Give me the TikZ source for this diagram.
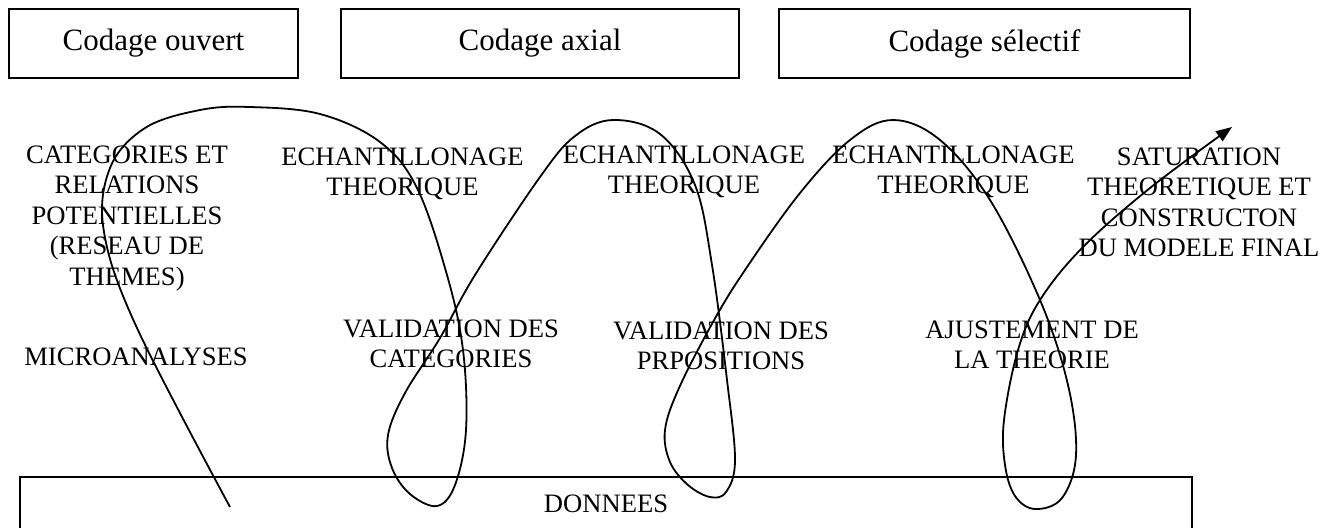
\documentclass[tikz,border=0pt]{standalone}
\usepackage{fontspec}
\setmainfont{Liberation Serif}
\usepackage{tikz}
\usetikzlibrary{shapes,arrows.meta,positioning}
\tikzstyle{codage} = [rectangle, minimum height=34.5pt, text centered, draw=black, line width=1pt, font=\fontsize{15.5}{18}\selectfont]
\tikzstyle{etape} = [align=center, anchor=north, inner sep=0pt, font=\fontsize{13.3}{15.3}\selectfont]
\tikzstyle{donnees} = [rectangle, minimum width=586pt, minimum height=27pt, text centered, draw=black, line width=1pt, font=\fontsize{13.3}{15}\selectfont]
\tikzstyle{spirale} = [line width=0.9pt, -{Triangle[length=8pt,width=6pt]}]

\begin{document}
\begin{tikzpicture}[x=0.5pt, y=-0.5pt]
	\useasboundingbox (0,0) rectangle (1336,527);
	\clip (0,0) rectangle (1336,527);

	\node (ouvert) [codage, minimum width=144.5pt] at (153.5,43.5) {Codage ouvert};
	\node (axial) [codage, minimum width=199pt] at (540,43.5) {Codage axial};
	\node (selectif) [codage, minimum width=205.5pt] at (984.5,43.5) {Codage sélectif};

	\node (categories) [etape] at (127,145) {CATEGORIES ET\\RELATIONS\\POTENTIELLES\\(RESEAU DE\\THEMES)};
	\node (echant1) [etape] at (402.5,147) {ECHANTILLONAGE\\THEORIQUE};
	\node (echant2) [etape] at (684,145) {ECHANTILLONAGE\\THEORIQUE};
	\node (echant3) [etape] at (953.5,145) {ECHANTILLONAGE\\THEORIQUE};
	\node (saturation) [etape] at (1199,147) {SATURATION\\THEORETIQUE ET\\CONSTRUCTON\\DU MODELE FINAL};

	\node (micro) [etape] at (136,347) {MICROANALYSES};
	\node (valcat) [etape] at (451,319) {VALIDATION DES\\CATEGORIES};
	\node (valprop) [etape] at (721,321) {VALIDATION DES\\PRPOSITIONS};
	\node (ajustement) [etape] at (1032,320) {AJUSTEMENT DE\\LA THEORIE};

	\node (data) [donnees] at (606,504) {DONNEES};

	% la spirale
	\draw[spirale] plot[smooth, tension=0.6] coordinates {
		(230,507) (137,328) (104,232) (110,168) (145,128) (200,110) (250,107)
		(320,114) (380,142) (417,188) (447,275) (463,350) (466,430) (455,485)
		(437,506) (410,494) (392,468) (388,435) (405,393) (440,338) (475,275)
		(540,177) (575,136) (613,120) (660,134) (695,185) (712,265) (727,380)
		(735,460) (726,492) (710,497) (688,485) (670,462) (665,430) (679,388)
		(713,322) (745,270) (800,193) (850,140) (893,120) (940,140) (990,200)
		(1040,300) (1068,385) (1076,455) (1062,498) (1035,509) (1015,496)
		(1005,465) (1004,420) (1018,350) (1040,300) (1083,247) (1150,188)
		(1232,127)};
\end{tikzpicture}
\end{document}
